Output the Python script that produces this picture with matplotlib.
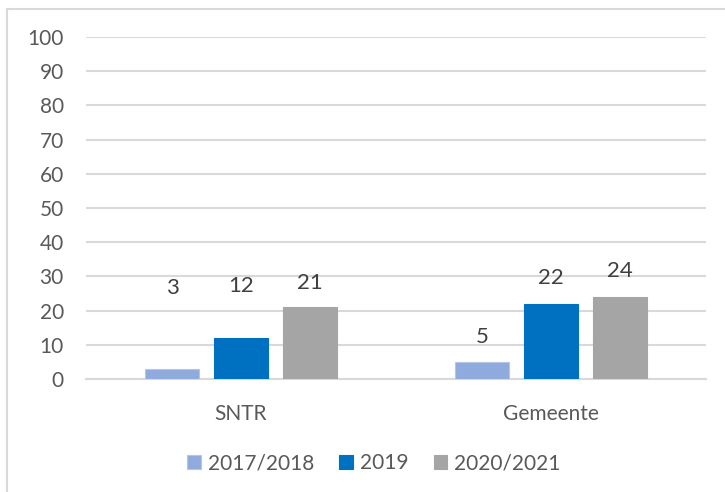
import matplotlib
matplotlib.use("Agg")
import matplotlib.pyplot as plt
from matplotlib.patches import Rectangle
import numpy as np

categories = ["SNTR", "Gemeente"]
series_names = ["2017/2018", "2019", "2020/2021"]
v_2017_2018 = [3, 5]
v_2019 = [12, 22]
v_2020_2021 = [21, 24]
yticks = list(range(0, 101, 10))

colors = ["#8FAADC", "#0070C0", "#A5A5A5"]
values = [v_2017_2018, v_2019, v_2020_2021]
# label centre heights (data units), as placed in the reference
label_y = [[26.6, 12.3], [27.3, 29.5], [28.2, 31.6]]

plt.rcParams['font.family'] = ['Lato', 'DejaVu Sans']

W, H = 725, 492
fig = plt.figure(figsize=(W / 100, H / 100), dpi=100)
ax = fig.add_axes([86 / W, 1 - 379 / H, (706 - 86) / W, (379 - 37) / H])

x = np.arange(len(categories))
bw = 0.177
step = 0.2226
for i, (name, vals, c) in enumerate(zip(series_names, values, colors)):
    pos = x + (i - 1) * step
    ax.bar(pos, vals, width=bw, color=c, label=name, zorder=3,
           edgecolor="#B4C7E7" if i == 0 else c, linewidth=0.8)
    for p, v, ly in zip(pos, vals, label_y[i]):
        ax.text(p, ly, str(v), ha="center", va="center", fontsize=16,
                color="#404040")

ax.set_xlim(-0.5, 1.5)
ax.set_ylim(0, 100)
ax.set_yticks(yticks)
ax.set_yticklabels([str(t) for t in yticks])
ax.set_xticks(x)
ax.set_xticklabels(categories)
ax.tick_params(axis="both", length=0, labelsize=15, labelcolor="#595959")
ax.tick_params(axis="y", pad=16)
ax.tick_params(axis="x", pad=18)
ax.grid(axis="y", color="#D9D9D9", linewidth=1.5, zorder=0)
for s in ["top", "right", "left"]:
    ax.spines[s].set_visible(False)
ax.spines["bottom"].set_color("#D9D9D9")
ax.spines["bottom"].set_linewidth(1.5)

fig.legend(loc="center", bbox_to_anchor=(374 / W, 1 - 463 / H), ncol=3,
           frameon=False, fontsize=15, handlelength=0.65, handleheight=0.65,
           handletextpad=0.35, columnspacing=1.2, labelcolor="#595959")

fig.patches.append(Rectangle((7 / W, -0.1), 1.2, 1 - 9 / H + 0.1,
                             transform=fig.transFigure, fill=False,
                             edgecolor="#D9D9D9", linewidth=1.5))

fig.savefig("out.png", dpi=100, facecolor="white")
